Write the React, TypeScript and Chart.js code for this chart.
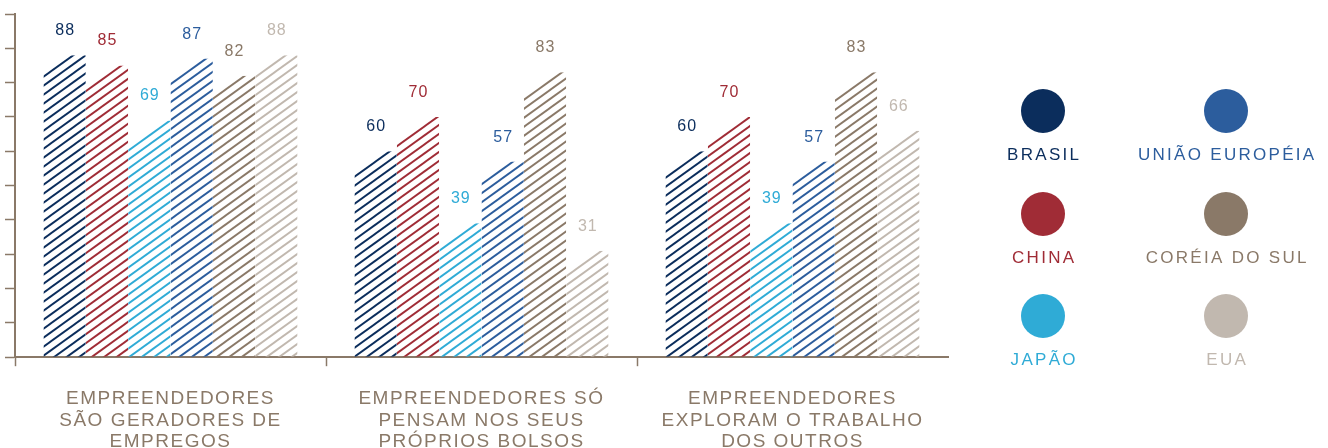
import { useEffect, useRef } from "react";
import { Chart, registerables } from "chart.js";

Chart.register(...registerables);

// ---- data ----
const categories: string[][] = [
  ["EMPREENDEDORES", "SÃO GERADORES DE", "EMPREGOS"],
  ["EMPREENDEDORES SÓ", "PENSAM NOS SEUS", "PRÓPRIOS BOLSOS"],
  ["EMPREENDEDORES", "EXPLORAM O TRABALHO", "DOS OUTROS"],
];
const seriesNames = ["BRASIL", "CHINA", "JAPÃO", "UNIÃO EUROPÉIA", "CORÉIA DO SUL", "EUA"];
const brasil = [88, 60, 60];
const china = [85, 70, 70];
const japao = [69, 39, 39];
const uniaoEuropeia = [87, 57, 57];
const coreiaDoSul = [82, 83, 83];
const eua = [88, 31, 66];
const seriesValues = [brasil, china, japao, uniaoEuropeia, coreiaDoSul, eua];
const seriesColors = ["#0b2d5c", "#a02c36", "#2fabd6", "#2c5d9d", "#8a7968", "#c1b8af"];
const yMin = 0;
const yMax = 100;
const yStep = 10;

const AXIS = "#8a7968";
const FONT = "'Liberation Sans', Arial, sans-serif";
const HATCH_SLOPE = 18 / 25; // tile 25 x 18, two lines per tile
const HATCH_GAP = 9;

function makePattern(color: string): CanvasPattern | string {
  const c = document.createElement("canvas");
  c.width = 25;
  c.height = 18;
  const g = c.getContext("2d");
  if (!g) return color;
  g.strokeStyle = color;
  g.lineWidth = 1.9;
  for (let k = 0; k <= 5; k++) {
    const y0 = HATCH_GAP * k;
    g.beginPath();
    g.moveTo(-5, y0 + 5 * HATCH_SLOPE);
    g.lineTo(30, y0 - 30 * HATCH_SLOPE);
    g.stroke();
  }
  return g.createPattern(c, "repeat") || color;
}

const spacingPlugin = {
  id: "spacing",
  beforeLayout(chart: any) {
    (chart.ctx as any).letterSpacing = "1.5px";
  },
  beforeDraw(chart: any) {
    (chart.ctx as any).letterSpacing = "1.5px";
  },
};

// clip each bar so that its top follows the hatch direction
const slantClip = {
  id: "slantClip",
  beforeDatasetDraw(chart: any, args: any) {
    const ctx = chart.ctx as CanvasRenderingContext2D;
    const m = HATCH_SLOPE;
    ctx.save();
    ctx.beginPath();
    args.meta.data.forEach((bar: any) => {
      const { x, y, base, width } = bar.getProps(["x", "y", "base", "width"], true);
      const L = x - width / 2;
      const R = x + width / 2;
      const T = y;
      const k = Math.floor((T + m * R) / HATCH_GAP);
      const vEdge = HATCH_GAP * k - HATCH_GAP / 2;
      const xe = (vEdge - T) / m;
      ctx.moveTo(L, base);
      ctx.lineTo(L, Math.min(base, vEdge - m * L));
      ctx.lineTo(Math.max(L, xe), T);
      ctx.lineTo(R, T);
      ctx.lineTo(R, base);
      ctx.closePath();
    });
    ctx.clip();
  },
  afterDatasetDraw(chart: any) {
    chart.ctx.restore();
  },
};

const valueLabels = {
  id: "valueLabels",
  afterDatasetsDraw(chart: any) {
    const ctx = chart.ctx as CanvasRenderingContext2D;
    ctx.save();
    (ctx as any).letterSpacing = "1px";
    ctx.font = `16px ${FONT}`;
    ctx.textAlign = "center";
    ctx.textBaseline = "alphabetic";
    chart.data.datasets.forEach((ds: any, i: number) => {
      const meta = chart.getDatasetMeta(i);
      meta.data.forEach((bar: any, j: number) => {
        ctx.fillStyle = seriesColors[i];
        ctx.fillText(String(ds.data[j]), bar.x + 0.5, bar.y - 20);
      });
    });
    ctx.restore();
  },
};

const gridLegend = {
  id: "gridLegend",
  afterDraw(chart: any) {
    const ctx = chart.ctx as CanvasRenderingContext2D;
    const area = chart.chartArea;
    const colX = [area.right + 95, area.right + 278];
    const rowY = [area.top + 97, area.top + 200, area.top + 302];
    ctx.save();
    ctx.font = `17px ${FONT}`;
    (ctx as any).letterSpacing = "2.3px";
    ctx.textAlign = "center";
    ctx.textBaseline = "alphabetic";
    chart.data.datasets.forEach((ds: any, i: number) => {
      const col = Math.floor(i / 3);
      const row = i % 3;
      const cx = colX[col];
      const cy = rowY[row];
      ctx.fillStyle = seriesColors[i];
      ctx.beginPath();
      ctx.arc(cx, cy, 22, 0, Math.PI * 2);
      ctx.fill();
      ctx.fillText(ds.label, cx + 1.2, cy + 49);
    });
    ctx.restore();
  },
};

export default function App() {
  const ref = useRef<HTMLCanvasElement>(null);

  useEffect(() => {
    if (!ref.current) return;
    Chart.defaults.font.family = FONT;
    const chart = new Chart(ref.current, {
      type: "bar",
      data: {
        labels: categories as any,
        datasets: seriesNames.map((name, i) => ({
          label: name,
          data: seriesValues[i],
          backgroundColor: makePattern(seriesColors[i]) as any,
          borderWidth: 0,
          barPercentage: 1,
          categoryPercentage: 0.817,
        })),
      },
      options: {
        animation: false,
        responsive: false,
        maintainAspectRatio: false,
        layout: { padding: { left: 5, right: 380, top: 14, bottom: 0 } },
        plugins: {
          legend: { display: false },
          tooltip: { enabled: false },
        },
        scales: {
          x: {
            grid: {
              offset: true,
              drawOnChartArea: false,
              drawTicks: true,
              tickLength: 9,
              tickWidth: 1.5,
              tickColor: (c: any) => (c.type === "tick" ? AXIS : "rgba(0,0,0,0)"),
            },
            border: { display: true, color: AXIS, width: 2 },
            ticks: {
              color: AXIS,
              padding: 22,
              maxRotation: 0,
              autoSkip: false,
              font: { size: 19, lineHeight: 1.137, family: FONT },
            },
          },
          y: {
            min: yMin,
            max: yMax,
            grid: {
              drawOnChartArea: false,
              drawTicks: true,
              tickLength: 10,
              tickWidth: 1.5,
              tickColor: AXIS,
            },
            border: { display: true, color: AXIS, width: 2 },
            ticks: { display: false, stepSize: yStep },
          },
        },
      },
      plugins: [spacingPlugin, slantClip, valueLabels, gridLegend],
    });
    return () => chart.destroy();
  }, []);

  return (
    <div style={{ position: "fixed", left: 0, top: 0, width: 1328, height: 475, background: "#fff" }}>
      <canvas ref={ref} width={1328} height={475} style={{ display: "block" }} />
    </div>
  );
}
